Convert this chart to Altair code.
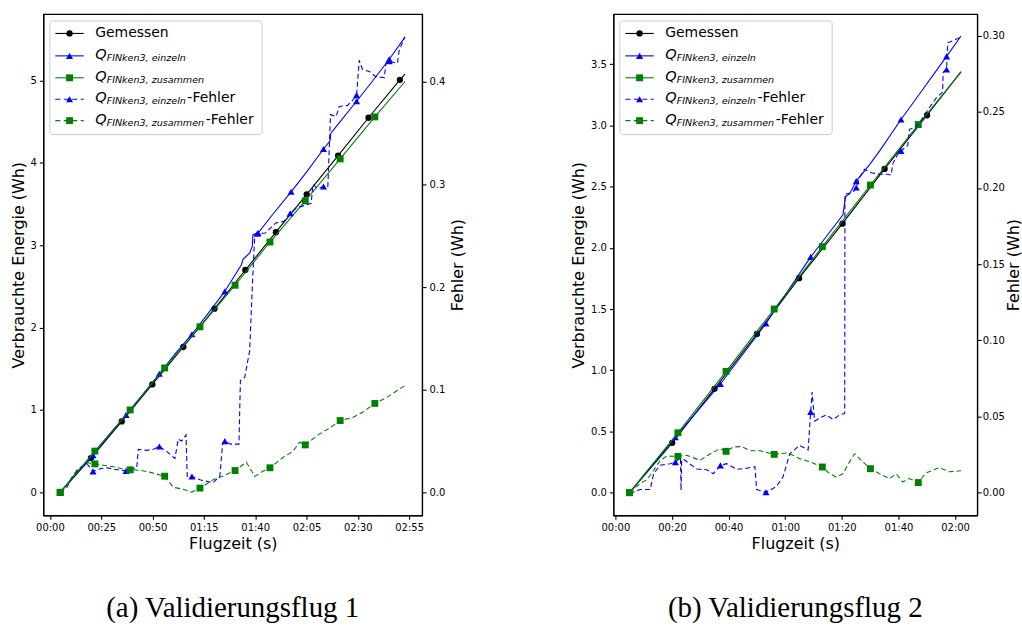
import json
import altair as alt
import pandas as pd

# ---------------- Panel (a): Validierungsflug 1 ----------------
A_GEM_T = [5, 20, 35, 49.9, 65, 80.2, 95.2, 110.1, 125.1, 140.4, 155.2, 170.5, 173]
A_GEM_V = [0, 0.415, 0.86, 1.31, 1.765, 2.23, 2.70, 3.16, 3.62, 4.09, 4.55, 5.01, 5.08]
A_GEM_M = [0, 1, 2, 3, 4, 5, 6, 7, 8, 9, 10, 11]

A_EIN_T = [5, 13, 21, 29, 37.1, 45, 53.3, 61, 69.2, 77, 85.2, 89.2, 93.3, 94.1, 97.3, 98.6, 98.9,
           101.4, 109, 117.5, 125, 133.3, 136.5, 136.8, 141, 149.4, 157, 165.3, 173]
A_EIN_V = [0, 0.24, 0.45, 0.70, 0.94, 1.18, 1.44, 1.68, 1.92, 2.17, 2.44, 2.60, 2.765, 2.83, 2.905, 2.99, 3.13,
           3.15, 3.39, 3.65, 3.89, 4.17, 4.27, 4.36, 4.49, 4.75, 4.99, 5.26, 5.53]
A_EIN_M = [0, 2, 4, 6, 8, 10, 17, 19, 21, 25, 27]

A_ZUS_T = [5, 21.9, 39.1, 55.9, 73.1, 90.2, 107.2, 124.4, 141.4, 158.3, 173]
A_ZUS_V = [0, 0.50, 1.00, 1.51, 2.01, 2.515, 3.04, 3.54, 4.05, 4.56, 4.99]
A_ZUS_M = [0, 1, 2, 3, 4, 5, 6, 7, 8, 9]

A_EF_T = [5, 8.3, 10.8, 13.2, 18.0, 21.0, 24.5, 27.8, 33, 37.1, 42.3, 43.1, 47, 50.4, 53.3, 56.9, 60.9,
          62.5, 64.2, 66.3, 66.9, 69.2, 73.1, 79.5, 82.8, 84.1, 85.2, 88, 92.1, 92.8, 94.9, 97.3, 98.6,
          99.8, 101, 105, 110, 114, 117.1, 120, 124, 127.3, 128.1, 130.5, 133.3, 135.4, 136.7, 139.4,
          141, 145, 147.5, 149.4, 150.7, 152.3, 155.6, 158.8, 162.9, 163.7, 165.3, 169.3, 170.1, 172.9]
A_EF_V = [0, 0.005, 0.015, 0.021, 0.028, 0.0205, 0.023, 0.024, 0.022, 0.021, 0.024, 0.042, 0.041, 0.042,
          0.0447, 0.040, 0.033, 0.052, 0.050, 0.056, 0.0155, 0.0155, 0.0123, 0.0094, 0.016, 0.047, 0.050,
          0.047, 0.047, 0.109, 0.112, 0.138, 0.20, 0.251, 0.252, 0.2527, 0.2624, 0.264, 0.272, 0.277,
          0.2795, 0.2816, 0.30, 0.296, 0.298, 0.298, 0.368, 0.366, 0.376, 0.377, 0.382, 0.387, 0.421,
          0.412, 0.410, 0.405, 0.404, 0.418, 0.420, 0.418, 0.43, 0.444]
A_EF_M = [0, 5, 9, 14, 21, 26, 34, 38, 44, 51, 58]

A_ZF_T = [5, 8, 10.8, 13.2, 18.0, 21.9, 26, 31, 35, 39.1, 44, 49, 55.9, 60.1, 65, 69, 73.1, 79.5, 84.4,
          90.2, 95.7, 99.8, 103.8, 107.2, 113.5, 118.4, 121.6, 124.4, 131.3, 136.2, 141.4, 147.5, 152.3,
          158.3, 163.7, 172.9]
A_ZF_V = [0, 0.006, 0.015, 0.022, 0.029, 0.0278, 0.0265, 0.025, 0.023, 0.022, 0.0215, 0.0195, 0.0158,
          0.005, 0.003, 0.0003, 0.0042, 0.0123, 0.016, 0.0213, 0.0294, 0.0155, 0.0207, 0.024, 0.034, 0.040,
          0.0489, 0.0463, 0.057, 0.0625, 0.070, 0.073, 0.078, 0.0867, 0.092, 0.104]
A_ZF_M = [0, 5, 9, 12, 16, 19, 23, 27, 30, 33]

A_XTICKS = [0, 25, 50, 75, 100, 125, 150, 175]
A_XLABELS = ["00:00", "00:25", "00:50", "01:15", "01:40", "02:05", "02:30", "02:55"]
A_Y1TICKS = [0, 1, 2, 3, 4, 5]
A_Y2TICKS = [0.0, 0.1, 0.2, 0.3, 0.4]

# ---------------- Panel (b): Validierungsflug 2 ----------------
B_GEM_T = [5, 20.07, 35, 50, 64.9, 80.2, 95.1, 110.1, 122.1]
B_GEM_V = [0, 0.407, 0.848, 1.296, 1.752, 2.197, 2.645, 3.083, 3.44]
B_GEM_M = [0, 1, 2, 3, 4, 5, 6, 7]

B_EIN_T = [5, 21.2, 37.1, 53.2, 69, 73.3, 80.4, 81.3, 82.7, 85.1, 87.4, 89.8, 93.3, 100.9, 108, 113, 117, 122.1]
B_EIN_V = [0, 0.453, 0.888, 1.382, 1.926, 2.056, 2.27, 2.42, 2.44, 2.545, 2.61, 2.68, 2.79, 3.048, 3.275,
           3.435, 3.564, 3.73]
B_EIN_M = [0, 1, 2, 3, 4, 9, 13, 16]

B_ZUS_T = [5, 22.1, 39.1, 56.1, 73.1, 90.1, 107, 122.1]
B_ZUS_V = [0, 0.489, 0.991, 1.50, 2.01, 2.513, 3.007, 3.436]
B_ZUS_M = [0, 1, 2, 3, 4, 5, 6]

B_EF_T = [5, 6.5, 8.8, 12.3, 13.5, 15.8, 19.4, 21.2, 23.0, 23.2, 23.4, 24, 28.8, 32.3, 34.6, 37.1, 39.3,
          42.9, 46.4, 49.3, 49.9, 53.2, 56.9, 59.3, 61.6, 65.1, 68.1, 68.7, 69.0, 69.5, 70.4, 72.2, 74.5,
          76.9, 79.2, 81.0, 81.1, 83.9, 85.1, 86.3, 88, 90.4, 93.3, 96.2, 97.4, 98, 100.4, 100.9, 103.3,
          103.9, 106.2, 108.6, 110.9, 113.3, 115.6, 115.8, 117, 117.4, 119.7, 122.1]
B_EF_V = [0, 0.0005, 0.002, 0.002, 0.0124, 0.018, 0.019, 0.020, 0.023, 0.0015, 0.021, 0.022, 0.0155, 0.015,
          0.0124, 0.0179, 0.019, 0.0153, 0.016, 0.017, 0.002, 0.0002, 0.004, 0.0107, 0.0255, 0.031, 0.028,
          0.045, 0.053, 0.066, 0.047, 0.049, 0.051, 0.048, 0.051, 0.052, 0.196, 0.197, 0.2003, 0.207,
          0.2123, 0.210, 0.209, 0.209, 0.2085, 0.216, 0.2243, 0.2243, 0.228, 0.2385, 0.240, 0.246, 0.2527,
          0.259, 0.263, 0.276, 0.2778, 0.2953, 0.297, 0.2992]
B_EF_M = [0, 7, 15, 21, 28, 38, 47, 56]

B_ZF_T = [5, 8.8, 11.2, 13.5, 15.8, 18.2, 22.1, 25.2, 29.9, 33.5, 37, 39.1, 41.7, 44.6, 47.5, 51.1, 56.1,
          60.4, 62.8, 65.1, 68.7, 73.1, 75.7, 78, 80.4, 82.7, 84.5, 87.4, 90.1, 93.3, 96.8, 99.2, 101.5,
          103.9, 107, 109.7, 114.4, 118, 122.1]
B_ZF_V = [0, 0.006, 0.0085, 0.0145, 0.0212, 0.024, 0.0238, 0.0245, 0.0212, 0.0255, 0.0288, 0.0271, 0.030,
          0.0302, 0.0275, 0.0275, 0.0251, 0.026, 0.0245, 0.0223, 0.0202, 0.0168, 0.0124, 0.0102, 0.0124,
          0.0202, 0.0255, 0.0202, 0.0157, 0.0124, 0.0092, 0.0124, 0.007, 0.0092, 0.0066, 0.0129, 0.0164,
          0.0137, 0.0143]
B_ZF_M = [0, 6, 11, 16, 21, 28, 34]

B_XTICKS = [0, 20, 40, 60, 80, 100, 120]
B_XLABELS = ["00:00", "00:20", "00:40", "01:00", "01:20", "01:40", "02:00"]
B_Y1TICKS = [0.0, 0.5, 1.0, 1.5, 2.0, 2.5, 3.0, 3.5]
B_Y2TICKS = [0.00, 0.05, 0.10, 0.15, 0.20, 0.25, 0.30]

# ---------------- legend texts ----------------
LEG_MAIN = ["Gemessen", "Q", "Q", "Q", "Q"]
LEG_SUB = ["", "FINken3, einzeln", "FINken3, zusammen", "FINken3, einzeln", "FINken3, zusammen"]
LEG_SUFFIX = ["", "", "", "-Fehler", "-Fehler"]

FONT = "DejaVu Sans"
BLACK, BLUE, GREEN = "#000000", "#0000ff", "#008000"
LW = 1.1
S_CIRC, S_TRI, S_SQ = 40, 50, 48


def series(T, V, M, color, shape, size, dashed, xenc, yenc):
    df = pd.DataFrame({"t": T, "v": V})
    lk = dict(color=color, strokeWidth=LW)
    if dashed:
        lk["strokeDash"] = [5, 3]
    line = alt.Chart(df).mark_line(**lk).encode(x=xenc, y=yenc)
    pts = alt.Chart(df.iloc[M]).mark_point(shape=shape, filled=True, size=size, color=color,
                                            opacity=1).encode(x=xenc, y=yenc)
    return [line, pts]


def legend_layers():
    one = pd.DataFrame({"a": [0]})
    rows = [19.5, 42, 64, 85.5, 107]
    styles = [(BLACK, "circle", S_CIRC, False), (BLUE, "triangle-up", S_TRI, False),
              (GREEN, "square", S_SQ, False), (BLUE, "triangle-up", S_TRI, True), (GREEN, "square", S_SQ, True)]
    suffix_x = [0, 0, 0, 144.5, 163]
    out = [alt.Chart(one).mark_rect(fill="white", fillOpacity=0.8, stroke="#cccccc", strokeWidth=1,
                                    cornerRadius=3).encode(
        x=alt.value(6.5), x2=alt.value(219.5), y=alt.value(7), y2=alt.value(121))]
    for i, y in enumerate(rows):
        color, shape, size, dashed = styles[i]
        rk = dict(color=color, strokeWidth=LW)
        if dashed:
            rk["strokeDash"] = [5, 3.5]
        out.append(alt.Chart(one).mark_rule(**rk).encode(
            x=alt.value(12), x2=alt.value(40.5), y=alt.value(y)))
        out.append(alt.Chart(one).mark_point(shape=shape, filled=True, size=size, color=color,
                                             opacity=1).encode(x=alt.value(26.3), y=alt.value(y)))
        if LEG_SUB[i] == "":
            out.append(alt.Chart(one).mark_text(text=LEG_MAIN[i], font=FONT, fontSize=14, align="left",
                                                baseline="middle", color="black").encode(
                x=alt.value(52), y=alt.value(y)))
        else:
            out.append(alt.Chart(one).mark_text(text=LEG_MAIN[i], font=FONT, fontSize=14.5, fontStyle="italic",
                                                align="left", baseline="middle", color="black").encode(
                x=alt.value(52), y=alt.value(y - 1)))
            out.append(alt.Chart(one).mark_text(text=LEG_SUB[i], font=FONT, fontSize=9.6, fontStyle="italic",
                                                align="left", baseline="middle", color="black").encode(
                x=alt.value(63.5), y=alt.value(y + 2)))
            if LEG_SUFFIX[i]:
                out.append(alt.Chart(one).mark_text(text=LEG_SUFFIX[i], font=FONT, fontSize=14,
                                                    align="left", baseline="middle", color="black").encode(
                    x=alt.value(suffix_x[i]), y=alt.value(y - 1)))
    return out


def panel(data, xdom, xticks, xlabels, y1dom, y1ticks, y1fmt, y2dom, y2ticks, y2fmt, width, caption,
          r_label_pad, r_title_pad):
    label_expr = "%s[indexof(%s, datum.value)]" % (json.dumps(xlabels), json.dumps(xticks))
    xenc = alt.X("t:Q", scale=alt.Scale(domain=xdom, nice=False, zero=False),
                 axis=alt.Axis(values=xticks, labelExpr=label_expr, title="Flugzeit (s)", grid=False,
                               titlePadding=3))
    y1 = alt.Y("v:Q", scale=alt.Scale(domain=y1dom, nice=False, zero=False),
               axis=alt.Axis(orient="left", values=y1ticks, format=y1fmt, grid=False,
                             title="Verbrauchte Energie (Wh)", titlePadding=4))
    y2 = alt.Y("v:Q", scale=alt.Scale(domain=y2dom, nice=False, zero=False),
               axis=alt.Axis(orient="right", values=y2ticks, format=y2fmt, title="Fehler (Wh)", grid=False,
                             titleAngle=270, titleBaseline="top", titlePadding=r_title_pad,
                             labelPadding=r_label_pad))
    (gem, ein, zus, ef, zf) = data
    energy = alt.layer(*(series(*gem, BLACK, "circle", S_CIRC, False, xenc, y1)
                         + series(*ein, BLUE, "triangle-up", S_TRI, False, xenc, y1)
                         + series(*zus, GREEN, "square", S_SQ, False, xenc, y1)))
    error = alt.layer(*(series(*ef, BLUE, "triangle-up", S_TRI, True, xenc, y2)
                        + series(*zf, GREEN, "square", S_SQ, True, xenc, y2)))
    main = alt.layer(energy, error).resolve_scale(y="independent")
    return alt.layer(main, *legend_layers()).properties(
        width=width, height=503,
        title=alt.Title(caption, orient="bottom", font="Liberation Serif", fontSize=29, fontWeight="normal",
                        color="black", anchor="middle", frame="group", offset=43))


pa = panel([(A_GEM_T, A_GEM_V, A_GEM_M), (A_EIN_T, A_EIN_V, A_EIN_M), (A_ZUS_T, A_ZUS_V, A_ZUS_M),
            (A_EF_T, A_EF_V, A_EF_M), (A_ZF_T, A_ZF_V, A_ZF_M)],
           [-3.2, 181.3], A_XTICKS, A_XLABELS, [-0.28, 5.81], A_Y1TICKS, "d",
           [-0.0223, 0.466], A_Y2TICKS, ".1f", 380, "(a) Validierungsflug 1", 3, 5)
pb = panel([(B_GEM_T, B_GEM_V, B_GEM_M), (B_EIN_T, B_EIN_V, B_EIN_M), (B_ZUS_T, B_ZUS_V, B_ZUS_M),
            (B_EF_T, B_EF_V, B_EF_M), (B_ZF_T, B_ZF_V, B_ZF_M)],
           [-0.7, 127.8], B_XTICKS, B_XLABELS, [-0.185, 3.91], B_Y1TICKS, ".1f",
           [-0.0149, 0.3142], B_Y2TICKS, ".2f", 365, "(b) Validierungsflug 2", 1, 1)

chart = alt.hconcat(pa, pb, spacing=103).properties(
    padding={"left": 9.5, "top": 12, "right": 0, "bottom": 0}, background="white"
).configure_view(stroke="black", strokeWidth=1.2).configure_axis(
    domainColor="black", domainWidth=1.2, tickColor="black", tickSize=4, tickWidth=1.1, grid=False,
    labelFont=FONT, labelFontSize=10, labelColor="black", labelPadding=3,
    titleFont=FONT, titleFontSize=16, titleFontWeight="normal", titleColor="black"
)

chart.save("out.html", embed_options={"renderer": "svg", "actions": False})
